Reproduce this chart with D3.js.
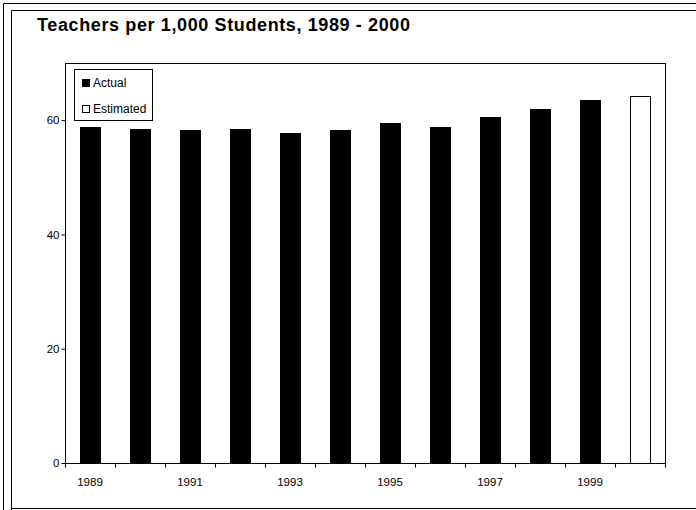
<!DOCTYPE html>
<html>
<head>
<meta charset="utf-8">
<script src="https://cdn.jsdelivr.net/npm/d3@7"></script>
<style>
  html, body { margin: 0; padding: 0; background: #fff; }
  svg { display: block; font-family: "Liberation Sans", Arial, sans-serif; }
</style>
</head>
<body>
<svg id="chart" width="696" height="510"></svg>
<script>
// ---- data ----
const years = ["1989","1990","1991","1992","1993","1994","1995","1996","1997","1998","1999","2000"];
const values = [58.8, 58.4, 58.2, 58.5, 57.8, 58.2, 59.5, 58.8, 60.6, 61.9, 63.5, 64.2];
const kinds = ["Actual","Actual","Actual","Actual","Actual","Actual","Actual","Actual","Actual","Actual","Actual","Estimated"];
const yTicks = [0, 20, 40, 60];
const xLabels = ["1989","1991","1993","1995","1997","1999"];
const legendItems = ["Actual", "Estimated"];
const titleText = "Teachers per 1,000 Students, 1989 - 2000";

const svg = d3.select("#chart");
const fillFor = k => k === "Actual" ? "#000" : "#fff";

// frames
svg.append("path").attr("d", "M3.5,510 V3.5 H696").attr("fill","none").attr("stroke","#000").attr("stroke-width",1);
svg.append("path").attr("d", "M11.5,510 V10.5 H696 M11.5,508.5 H696").attr("fill","none").attr("stroke","#000").attr("stroke-width",1);

// title
svg.append("text").attr("x", 37).attr("y", 31).attr("font-size", 18).attr("font-weight","bold")
  .attr("textLength", 373).attr("lengthAdjust", "spacing").text(titleText);

const pLeft = 65, pRight = 665, pTop = 63, pBottom = 463;
const x = d3.scaleBand().domain(years).range([pLeft, pRight]).paddingInner(0.58).paddingOuter(0.29);
const y = d3.scaleLinear().domain([0, 70]).range([pBottom, pTop]);

// plot frame top/right
svg.append("path").attr("d", `M${pLeft+0.5},${pTop+0.5} H${pRight+0.5} V${pBottom}`).attr("fill","none").attr("stroke","#000").attr("shape-rendering","crispEdges");

// bars
svg.append("g").selectAll("rect").data(years).join("rect")
  .attr("x", d => Math.round(x(d)) + 0.5)
  .attr("y", (d,i) => Math.round(y(values[i])) + 0.5)
  .attr("width", Math.round(x.bandwidth()) - 1)
  .attr("height", (d,i) => Math.round(y(0)) - Math.round(y(values[i])))
  .attr("fill", (d,i) => fillFor(kinds[i]))
  .attr("stroke", "#000").attr("stroke-width", 1);

// y axis
const yAxis = d3.axisLeft(y).tickValues(yTicks).tickSize(4).tickPadding(2).tickFormat(d3.format("d"));
const gy = svg.append("g").attr("transform", `translate(${pLeft+0.5},0)`).call(yAxis);
gy.select(".domain").attr("d", `M0,${pTop} V${pBottom+0.5}`);
gy.selectAll("text").attr("font-size", 11.5).attr("font-family", "Liberation Sans, Arial, sans-serif").attr("fill","#000");
gy.selectAll("line").attr("stroke","#000");

// x axis: ticks at band boundaries
const xb = d3.scaleLinear().domain([0, years.length]).range([pLeft, pRight]);
const gx = svg.append("g").attr("transform", `translate(0,${pBottom+0.5})`);
gx.append("line").attr("x1", pLeft).attr("x2", pRight+1).attr("stroke","#000");
gx.selectAll("line.tick").data(d3.range(years.length+1)).join("line").attr("class","tick")
  .attr("x1", i => Math.round(xb(i)) + 0.5).attr("x2", i => Math.round(xb(i)) + 0.5)
  .attr("y1", 0).attr("y2", 4).attr("stroke","#000");
gx.selectAll("text").data(xLabels).join("text")
  .attr("x", d => x(d) + x.bandwidth()/2)
  .attr("y", 22.5)
  .attr("text-anchor","middle").attr("font-size", 11.5).text(d => d);

// legend
const lg = svg.append("g");
lg.append("rect").attr("x", 74.5).attr("y", 69.5).attr("width", 78).attr("height", 51).attr("fill","#fff").attr("stroke","#000");
legendItems.forEach((name, i) => {
  const yy = 87 + i*26;
  lg.append("rect").attr("x", 82.5).attr("y", yy - 7.5).attr("width", 7).attr("height", 7).attr("fill", fillFor(name)).attr("stroke","#000");
  lg.append("text").attr("x", 93).attr("y", yy).attr("font-size", 12).text(name);
});
</script>
</body>
</html>
